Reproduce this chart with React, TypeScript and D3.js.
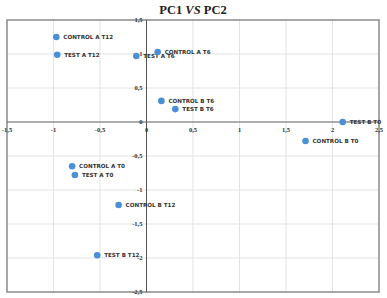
import React from "react";
import * as d3 from "d3";

const labels = [
  "CONTROL A T12", "TEST A T12", "TEST A T6", "CONTROL A T6",
  "CONTROL B T6", "TEST B T6", "TEST B T0", "CONTROL B T0",
  "CONTROL A T0", "TEST A T0", "CONTROL B T12", "TEST B T12",
];
const pc1 = [-0.97, -0.96, -0.11, 0.12, 0.16, 0.31, 2.11, 1.71, -0.8, -0.77, -0.3, -0.53];
const pc2 = [1.25, 0.99, 0.97, 1.03, 0.31, 0.19, 0.0, -0.28, -0.65, -0.78, -1.22, -1.96];
const xTicks = [-1.5, -1, -0.5, 0, 0.5, 1, 1.5, 2, 2.5];
const yTicks = [1.5, 1, 0.5, 0, -0.5, -1, -1.5, -2, -2.5];

const fmt = (v: number) => String(v).replace(".", ",");

export default function App() {
  const W = 387, H = 298;
  const left = 7, right = 379, top = 20, bottom = 292;
  const x = d3.scaleLinear().domain([-1.5, 2.5]).range([left, right]);
  const y = d3.scaleLinear().domain([-2.5, 1.5]).range([bottom, top]);
  const x0 = x(0), y0 = y(0);
  return (
    <svg width={W} height={H} style={{ position: "absolute", left: 0, top: 0 }}>
      <rect width={W} height={H} fill="#fff" />
      <text x={193} y={14} textAnchor="middle" fontFamily="Liberation Serif, serif" fontWeight="bold" fontSize={12.5} fill="#222">
        PC1 <tspan fontStyle="italic">VS</tspan> PC2
      </text>
      {xTicks.slice(1, -1).map((t) => (
        <line key={"gx" + t} x1={x(t)} x2={x(t)} y1={top} y2={bottom} stroke="#e3e3e3" strokeWidth={1} />
      ))}
      {yTicks.slice(1, -1).map((t) => (
        <line key={"gy" + t} x1={left} x2={right} y1={y(t)} y2={y(t)} stroke="#e3e3e3" strokeWidth={1} />
      ))}
      <rect x={left} y={top} width={right - left} height={bottom - top} fill="none" stroke="#8a8a8a" strokeWidth={1.5} />
      <line x1={left} x2={right} y1={y0} y2={y0} stroke="#6a6a6a" strokeWidth={1} />
      <line x1={x0} x2={x0} y1={top} y2={bottom} stroke="#555" strokeWidth={1} />
      {xTicks.map((t) => (
        <text key={"tx" + t} x={x(t)} y={y0 + 10} textAnchor="middle" fontFamily="Liberation Serif, serif" fontWeight="bold" fontSize={6.5} fill="#333">
          {fmt(t)}
        </text>
      ))}
      {yTicks.map((t) => (
        <text key={"ty" + t} x={x0 - 4} y={y(t) + 2} textAnchor="end" fontFamily="Liberation Serif, serif" fontWeight="bold" fontSize={6.5} fill="#333">
          {fmt(t)}
        </text>
      ))}
      {labels.map((l, i) => (
        <g key={l}>
          <circle cx={x(pc1[i])} cy={y(pc2[i])} r={3.3} fill="#4a90d9" />
          <text x={x(pc1[i]) + 7} y={y(pc2[i]) + 2} fontFamily="DejaVu Sans, sans-serif" fontWeight="bold" fontSize={5.6} fill="#333">
            {l}
          </text>
        </g>
      ))}
    </svg>
  );
}
